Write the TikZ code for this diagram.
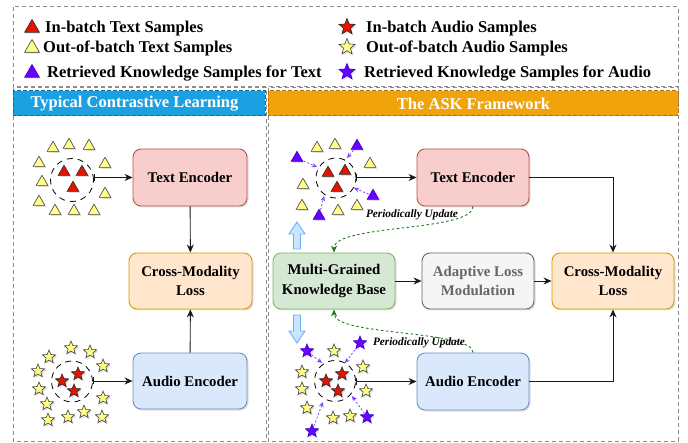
\documentclass[tikz,border=0pt]{standalone}
\usepackage{fontspec}
\setmainfont{Liberation Serif}
\usetikzlibrary{shapes.geometric,arrows.meta,shadows}
\definecolor{pinkF}{HTML}{F8CECC}\definecolor{pinkD}{HTML}{B85450}
\definecolor{orF}{HTML}{FFE6CC}\definecolor{orD}{HTML}{D79B00}
\definecolor{blF}{HTML}{DAE8FC}\definecolor{blD}{HTML}{6C8EBF}
\definecolor{grF}{HTML}{D5E8D4}\definecolor{grD}{HTML}{82B366}
\definecolor{gyF}{HTML}{F5F5F5}\definecolor{gyD}{HTML}{666666}
\definecolor{hbF}{HTML}{1BA1E2}\definecolor{hbD}{HTML}{006EAF}
\definecolor{hoF}{HTML}{F0A30A}\definecolor{hoD}{HTML}{BD7000}
\definecolor{redF}{HTML}{E51400}\definecolor{yelF}{HTML}{FFFF88}
\definecolor{purF}{HTML}{6A00FF}\definecolor{purD}{HTML}{3700CC}
\definecolor{purA}{HTML}{7F3FFF}\definecolor{grnA}{HTML}{1B7A1B}
\definecolor{frameG}{HTML}{8C8C8C}\definecolor{upF}{HTML}{CCE5FF}\definecolor{upD}{HTML}{66B2FF}
\begin{document}
\begin{tikzpicture}[x=1pt,y=-1pt,
  shd/.style={drop shadow={opacity=0.25,shadow xshift=1.5pt,shadow yshift=-1.5pt}},
  box/.style={draw,rounded corners=8pt,line width=0.9pt,inner sep=0pt,align=center,
    font=\fontsize{14.8}{19.5}\selectfont\bfseries,shd},
  tri/.style={regular polygon,regular polygon sides=3,inner sep=0pt,minimum size=13.5pt,line width=0.6pt,shd},
  legtri/.style={tri,minimum size=17pt},
  stra/.style={star,star points=5,star point ratio=2.3,inner sep=0pt,minimum size=14pt,line width=0.6pt,shd},
  legstar/.style={stra,minimum size=17pt},
  tR/.style={fill=redF,draw=black!85},
  tY/.style={fill=yelF,draw=black!75},
  tP/.style={fill=purF,draw=purD},
  clus/.style={circle,draw,dash pattern=on 6pt off 5pt,line width=0.8pt,inner sep=0pt},
  legtxt/.style={anchor=base west,inner sep=0pt,font=\fontsize{16.5}{20}\selectfont\bfseries},
  head/.style={font=\fontsize{16.5}{20}\selectfont\bfseries,text=white,inner sep=0pt},
  frame/.style={draw=frameG,dash pattern=on 4pt off 3pt,line width=1pt},
  arr/.style={-{Stealth[length=8pt,width=7pt]},line width=0.9pt,draw=black!90},
  barr/.style={{Bar[width=7pt,line width=0.8pt]}-{Stealth[length=8pt,width=7pt]},line width=0.9pt,draw=black!90},
  garr/.style={-{Stealth[length=7pt,width=6pt]},line width=0.9pt,draw=grnA,dash pattern=on 2.5pt off 2.5pt},
  parr/.style={-{Stealth[length=5pt,width=4.5pt]},line width=0.8pt,draw=purA,dash pattern=on 2pt off 2pt,shorten <=1pt},
  pu/.style={font=\fontsize{11.3}{13}\selectfont\bfseries\itshape,inner sep=0pt}
]
\useasboundingbox (0,0) rectangle (688,443);
% frames
\draw[frame] (13,7) rectangle (678,87);
\draw[frame] (13,88) rectangle (266,441);
\draw[frame] (268,88) rectangle (678,441);
\draw[fill=hbF,draw=hbD,dash pattern=on 4pt off 2pt,line width=1pt] (13,91) rectangle (265,116);
\draw[fill=hoF,draw=hoD,dash pattern=on 4pt off 2pt,line width=1pt] (268,91) rectangle (678,116);
\node[head] (h1) at (134.5,104) {Typical Contrastive Learning};
\node[head] (h2) at (473.5,104) {The ASK Framework};
% legend
\node[legtri,tR] (l1) at (32,28) {};
\node[legtxt] (l1t) at (45,32.5) {In-batch Text Samples};
\node[legtri,tY] (l2) at (32,48) {};
\node[legtxt] (l2t) at (43,52.5) {Out-of-batch Text Samples};
\node[legtri,tP] (l3) at (32,73) {};
\node[legtxt] (l3t) at (47,77.5) {Retrieved Knowledge Samples for Text};
\node[legstar,tR] (l4) at (347,27) {};
\node[legtxt] (l4t) at (366,32.5) {In-batch Audio Samples};
\node[legstar,tY] (l5) at (347,47) {};
\node[legtxt] (l5t) at (366,52.5) {Out-of-batch Audio Samples};
\node[legstar,tP] (l6) at (347,72) {};
\node[legtxt] (l6t) at (364,77.5) {Retrieved Knowledge Samples for Audio};
% ---------- left panel
\node[box,fill=pinkF,draw=pinkD,minimum width=114pt,minimum height=57pt] (te1) at (190,177.5) {Text Encoder};
\node[box,fill=orF,draw=orD,minimum width=123pt,minimum height=56pt] (cl1) at (190.5,281) {Cross-Modality\\Loss};
\node[box,fill=blF,draw=blD,minimum width=114pt,minimum height=56pt] (ae1) at (190,381) {Audio Encoder};
\node[clus,minimum size=43pt] (tcL) at (72,180) {};
\foreach \x/\y in {53/148,69/145,89/146,39/163,105/164,42/182,105/194,39/202,55/211,74/211,94/211}
  \node[tri,tY] at (\x,\y) {};
\foreach \x/\y in {64/172,82/172,73/188}
  \node[tri,tR] at (\x,\y) {};
\node[clus,minimum size=41pt] (acL) at (72,381.5) {};
\foreach \x/\y in {71/348,90/352,49/357,103/366,38/371,39/389,103/398,47/404,84/412,68/417,48/420,102/417}
  \node[stra,tY] at (\x,\y) {};
\foreach \x/\y in {62/381,78/374,74/391}
  \node[stra,tR] at (\x,\y) {};
\draw[barr] (tcL.east |- te1.west) -- (te1.west);
\draw[barr] (acL.east |- ae1.west) -- (ae1.west);
\draw[arr] (te1) -- (cl1);
\draw[arr] (ae1) -- (cl1);
% ---------- right panel
\node[box,fill=pinkF,draw=pinkD,minimum width=112pt,minimum height=57pt] (te2) at (473,177.5) {Text Encoder};
\node[box,fill=grF,draw=grD,minimum width=122pt,minimum height=56pt] (kb) at (334,281) {Multi-Grained\\Knowledge Base};
\node[box,fill=gyF,draw=gyD,text=black!60,minimum width=112pt,minimum height=56pt] (alm) at (478,281) {Adaptive Loss\\Modulation};
\node[box,fill=orF,draw=orD,minimum width=122pt,minimum height=56pt] (cl2) at (613,281) {Cross-Modality\\Loss};
\node[box,fill=blF,draw=blD,minimum width=112pt,minimum height=57pt] (ae2) at (473,381.5) {Audio Encoder};
% text cluster
\node[clus,minimum size=40pt] (tcR) at (336,178) {};
\foreach \x/\y in {317/148,335/145,370/164,303/185,302/206,338/211,357/206}
  \node[tri,tY] at (\x,\y) {};
\foreach \x/\y in {328/173,345/171,337/188}
  \node[tri,tR] at (\x,\y) {};
\node[tri,tP] (pt1) at (297,158) {};
\node[tri,tP] (pt2) at (357,146) {};
\node[tri,tP] (pt3) at (373,196) {};
\node[tri,tP] (pt4) at (319,216) {};
\coordinate (ct1) at (317,167);
\coordinate (ct2) at (347,158);
\coordinate (ct3) at (354,188);
\coordinate (ct4) at (324,196);
\draw[parr] (pt1) -- (ct1);
\draw[parr] (pt2) -- (ct2);
\draw[parr] (pt3) -- (ct3);
\draw[parr] (pt4) -- (ct4);
% audio cluster
\node[clus,minimum size=41pt] (acR) at (335,381) {};
\foreach \x/\y in {334/351,302/372,363/367,302/389,366/391,307/408,333/418,350/416}
  \node[stra,tY] at (\x,\y) {};
\foreach \x/\y in {326/381,342/374,338/391}
  \node[stra,tR] at (\x,\y) {};
\node[stra,tP] (ps1) at (307,351) {};
\node[stra,tP] (ps2) at (360,343) {};
\node[stra,tP] (ps3) at (367,417) {};
\node[stra,tP] (ps4) at (312,431) {};
\coordinate (cs1) at (322,363);
\coordinate (cs2) at (345,363);
\coordinate (cs3) at (352,396);
\coordinate (cs4) at (323,402);
\draw[parr] (ps1) -- (cs1);
\draw[parr] (ps2) -- (cs2);
\draw[parr] (ps3) -- (cs3);
\draw[parr] (ps4) -- (cs4);
% connectors
\draw[barr] (tcR.east |- te2.west) -- (te2.west);
\draw[barr] (acR.east |- ae2.west) -- (ae2.west);
\draw[arr] (te2.east) -| (cl2.north);
\draw[arr] (ae2.east) -| (cl2.south);
\draw[arr] (kb) -- (alm);
\draw[arr] (alm) -- (cl2);
\draw[garr] (te2.south) .. controls (473,232) and (334,224) .. (kb.north);
\draw[garr] (ae2.north) .. controls (473,330) and (334,336) .. (kb.south);
\node[pu] (pu1) at (412,215) {Periodically Update};
\node[pu] (pu2) at (419,343) {Periodically Update};
% hollow arrows
\draw[fill=upF,draw=upD,line width=0.9pt] (293.5,249) -- (293.5,234) -- (289,234) -- (297,222) -- (305,234) -- (300.5,234) -- (300.5,249) -- cycle;
\draw[fill=upF,draw=upD,line width=0.9pt] (293.5,315) -- (293.5,331) -- (289,331) -- (297,343) -- (305,331) -- (300.5,331) -- (300.5,315) -- cycle;
\end{tikzpicture}
\end{document}
